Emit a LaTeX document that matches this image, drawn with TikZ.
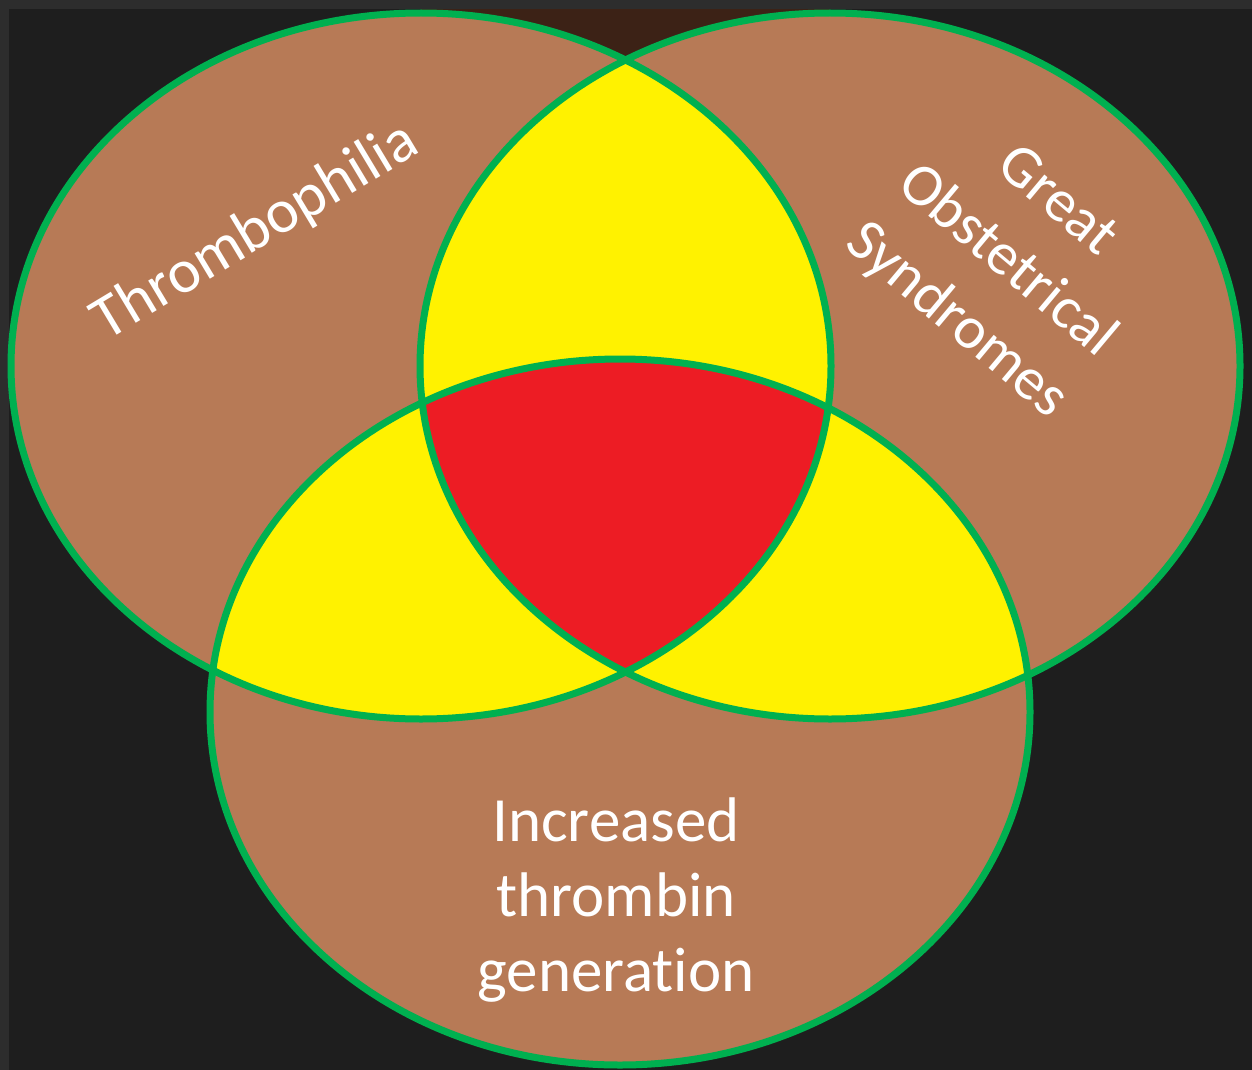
\documentclass[tikz,border=0pt]{standalone}
\usepackage{fontspec}
\setmainfont[Ligatures=NoCommon]{Carlito}
\usepackage{tikz}
\usetikzlibrary{calc}
\definecolor{setbrown}{HTML}{B77A56}
\definecolor{capbrown}{HTML}{3C2216}
\definecolor{setyellow}{HTML}{FFF200}
\definecolor{setred}{HTML}{ED1C24}
\definecolor{setgreen}{HTML}{00B050}
\definecolor{backdark}{HTML}{1E1E1E}
\definecolor{backedge}{HTML}{2D2D2D}
\tikzstyle{setsize}=[x radius=410, y radius=353]
\tikzstyle{setline}=[draw=setgreen, line width=3.5pt]
\tikzstyle{setlabel}=[text=white, font=\fontsize{30}{36}\selectfont, inner sep=0pt]

\begin{document}
\begin{tikzpicture}[x=0.5pt, y=-0.5pt]

    % background
    \fill[backedge] (0,0) rectangle (1252,1070);
    \fill[backdark] (9,9) rectangle (1252,1070);
    \useasboundingbox (0,0) rectangle (1252,1070);
    \fill[capbrown] (421,9) rectangle (830,200);

    % set centres
    \foreach \x/ \y/ \name in {421/366/thromb, 830/366/obst, 620/712/gen}
        \coordinate (\name) at (\x,\y);

    % sets
    \foreach \name in {thromb, obst, gen}
        \fill[setbrown] (\name) ellipse [setsize];

    % pairwise overlaps
    \foreach \first/ \second in {thromb/obst, thromb/gen, obst/gen}
    {
        \begin{scope}
            \clip (\first) ellipse [setsize];
            \fill[setyellow] (\second) ellipse [setsize];
        \end{scope}
    }

%red
    \begin{scope}
        \clip (thromb) ellipse [setsize];
        \clip (obst) ellipse [setsize];
        \fill[setred] (gen) ellipse [setsize];
    \end{scope}

    % outlines
    \foreach \name in {thromb, obst, gen}
        \path[setline] (\name) ellipse [setsize];

    % labels
    \node[setlabel, font=\fontsize{31}{36}\selectfont, rotate=31] (thrombtext) at (256,232) {Thrombophilia};
    \node[setlabel, font=\fontsize{30}{39}\selectfont, rotate=-40, align=center] (obsttext) at (1006,262)
        {Great\\Obstetrical\\Syndromes};
    \node[setlabel, font=\fontsize{31.5}{37.5}\selectfont, align=center] (gentext) at (616,900)
        {Increased\\thrombin\\generation};

\end{tikzpicture}
\end{document}
